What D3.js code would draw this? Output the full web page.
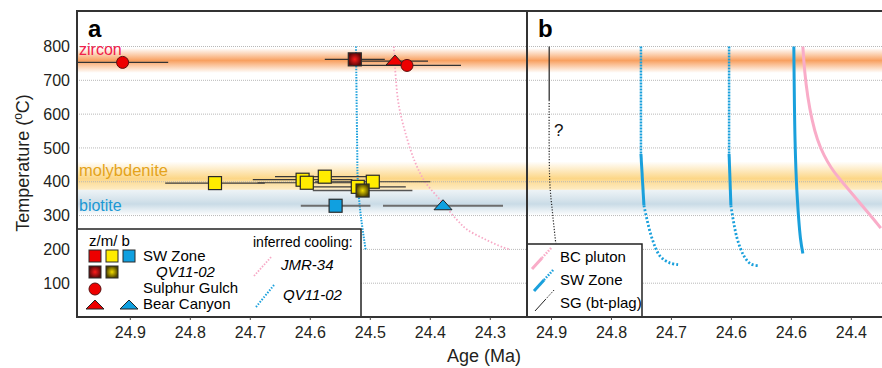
<!DOCTYPE html>
<html>
<head>
<meta charset="utf-8">
<script src="https://cdn.jsdelivr.net/npm/d3@7"></script>
<style>
  body { margin: 0; background: #fff; }
  svg { font-family: "Liberation Sans", Arial, Helvetica, sans-serif; }
</style>
</head>
<body>
<svg id="chart" width="882" height="368"></svg>
<script>
// ---- data (age Ma, temperature C, 2-sigma age error) ----
var sgZircon = [[24.912, 753, 0.076], [24.438, 744, 0.09]];     // Sulphur Gulch
var qvZircon = [[24.525, 762, 0.05]];                           // SW Zone QV11-02
var bcZircon = [[24.458, 757, 0.055]];                          // Bear Canyon
var swMolyb = [[24.758, 396, 0.083], [24.612, 406, 0.083], [24.605, 397, 0.082],
               [24.575, 415, 0.083], [24.52, 385, 0.08], [24.495, 400, 0.096]];
var qvMolyb = [[24.512, 374, 0.083]];
var swBiotite = [[24.557, 329, 0.058]];
var bcBiotite = [[24.378, 329, 0.10]];

// inferred cooling curves, panel a
var jmr34 = [[24.46, 800], [24.453, 641], [24.442, 553], [24.425, 460], [24.408, 400],
             [24.383, 347], [24.355, 288], [24.338, 259], [24.308, 230], [24.278, 206], [24.267, 200]];
var qv1102 = [[24.523, 800], [24.521, 500], [24.52, 400], [24.515, 300], [24.507, 200]];

// panel b curves
var bcPluton = [[24.48, 800], [24.477, 722], [24.472, 651], [24.465, 583], [24.456, 523],
                [24.445, 478], [24.433, 441], [24.42, 411], [24.406, 382], [24.385, 337],
                [24.365, 296], [24.35, 263]];
var sw1Top = [[24.75, 800], [24.75, 482]];
var sw1Mid = [[24.75, 482], [24.745, 330]];
var sw1Tail = [[24.745, 330], [24.732, 235], [24.718, 180], [24.702, 160], [24.688, 155]];
var sw2Top = [[24.603, 800], [24.603, 482]];
var sw2Mid = [[24.603, 482], [24.6, 330]];
var sw2Tail = [[24.6, 330], [24.59, 235], [24.578, 180], [24.567, 157], [24.555, 152]];
var sw3 = [[24.495, 800], [24.493, 523], [24.49, 375], [24.484, 233], [24.48, 188]];
var sgSolid = [[24.903, 800], [24.903, 641]];
var sgDotted = [[24.903, 641], [24.902, 400], [24.897, 300], [24.892, 218]];

var yTicks = [100, 200, 300, 400, 500, 600, 700, 800];
var xTicksA = [24.9, 24.8, 24.7, 24.6, 24.5, 24.4, 24.3];
var xTicksB = [24.9, 24.8, 24.7, 24.6, 24.5, 24.4];
var xLabelsB = ["24.9", "24.8", "24.7", "24.6", "24.6", "24.4"];

var svg = d3.select("#chart");
var plotL = 77, plotM = 527, plotR = 882, plotT = 11, plotB = 317;

var y = d3.scaleLinear().domain([0, 905]).range([plotB, plotT]);
var xa = d3.scaleLinear().domain([24.988, 24.238]).range([plotL, plotM]);
var xb = d3.scaleLinear().domain([24.94, 24.348]).range([plotM, plotR]);

var defs = svg.append("defs");
function vGrad(id, stops) {
    var g = defs.append("linearGradient").attr("id", id)
        .attr("x1", 0).attr("y1", 0).attr("x2", 0).attr("y2", 1);
    stops.forEach(function (s) {
        g.append("stop").attr("offset", s[0]).attr("stop-color", s[1]).attr("stop-opacity", s[2]);
    });
}
vGrad("zirconBand", [["0%", "#f8a464", 0], ["50%", "#f8a060", 1], ["100%", "#f8a464", 0]]);
vGrad("molyBand", [["0%", "#fcd27a", 0], ["60%", "#fcd27a", 0.9], ["100%", "#fde3a8", 0.7]]);
vGrad("bioBand", [["0%", "#e9f0f4", 0.8], ["55%", "#c9dbe6", 1], ["100%", "#c9dbe6", 0]]);

function rGrad(id, c0, c1) {
    var g = defs.append("radialGradient").attr("id", id);
    g.append("stop").attr("offset", "0%").attr("stop-color", c0);
    g.append("stop").attr("offset", "100%").attr("stop-color", c1);
}
rGrad("darkRed", "#ff1a1a", "#5e0808");
rGrad("darkYel", "#f2dc00", "#4f4400");

defs.append("clipPath").attr("id", "clipA").append("rect")
    .attr("x", plotL).attr("y", plotT).attr("width", plotM - plotL).attr("height", plotB - plotT);
defs.append("clipPath").attr("id", "clipB").append("rect")
    .attr("x", plotM).attr("y", plotT).attr("width", plotR - plotM).attr("height", plotB - plotT);

// background bands across both panels
var bands = svg.append("g");
function band(t1, t0, id) {
    bands.append("rect").attr("x", plotL).attr("width", plotR - plotL)
        .attr("y", y(t1)).attr("height", y(t0) - y(t1)).attr("fill", "url(#" + id + ")");
}
band(795, 722, "zirconBand");
band(460, 376, "molyBand");
band(376, 300, "bioBand");

// gridlines
svg.append("g").selectAll("line").data(yTicks).enter().append("line")
    .attr("x1", plotL).attr("x2", plotR)
    .attr("y1", function (d) { return y(d); }).attr("y2", function (d) { return y(d); })
    .attr("stroke", "#b8b8b8").attr("stroke-width", 1).attr("stroke-dasharray", "1,1");

// band labels
svg.append("text").attr("x", 79).attr("y", y(775)).attr("fill", "#f0204a")
    .attr("font-size", 16).text("zircon");
svg.append("text").attr("x", 79).attr("y", y(418)).attr("fill", "#e4a31a")
    .attr("font-size", 16.5).text("molybdenite");
svg.append("text").attr("x", 79).attr("y", y(314)).attr("fill", "#1c98d4")
    .attr("font-size", 16).text("biotite");

var line = function (xs, curve) {
    return d3.line().x(function (d) { return xs(d[0]); }).y(function (d) { return y(d[1]); })
        .curve(curve || d3.curveCatmullRom);
};

// ---- panel a ----
var ga = svg.append("g").attr("clip-path", "url(#clipA)");
ga.append("path").datum(jmr34).attr("d", line(xa)).attr("fill", "none")
    .attr("stroke", "#f7a9c6").attr("stroke-width", 1.8).attr("stroke-dasharray", "1.5,2");
ga.append("path").datum(qv1102).attr("d", line(xa)).attr("fill", "none")
    .attr("stroke", "#1aa0dc").attr("stroke-width", 2).attr("stroke-dasharray", "1.5,1.3");

function errBars(data, color, w) {
    ga.append("g").selectAll("line").data(data).enter().append("line")
        .attr("x1", function (d) { return xa(d[0] + d[2]); })
        .attr("x2", function (d) { return xa(d[0] - d[2]); })
        .attr("y1", function (d) { return y(d[1]); }).attr("y2", function (d) { return y(d[1]); })
        .attr("stroke", color).attr("stroke-width", w);
}
errBars(sgZircon, "#333", 1.2);
errBars(qvZircon, "#333", 1.2);
errBars(bcZircon, "#333", 1.2);
errBars(swMolyb, "#3a3a3a", 1.2);
errBars(qvMolyb, "#555", 1.5);
errBars(swBiotite, "#6d6d6d", 2);
errBars(bcBiotite, "#6d6d6d", 2);

function squares(data, fill) {
    ga.append("g").selectAll("rect").data(data).enter().append("rect")
        .attr("x", function (d) { return xa(d[0]) - 6.5; })
        .attr("y", function (d) { return y(d[1]) - 6.5; })
        .attr("width", 13).attr("height", 13)
        .attr("fill", fill).attr("stroke", "#2a2a2a").attr("stroke-width", 1.2);
}
function circles(data, fill) {
    ga.append("g").selectAll("circle").data(data).enter().append("circle")
        .attr("cx", function (d) { return xa(d[0]); }).attr("cy", function (d) { return y(d[1]); })
        .attr("r", 6).attr("fill", fill).attr("stroke", "#5a1010").attr("stroke-width", 1);
}
function triangles(data, fill) {
    ga.append("g").selectAll("path").data(data).enter().append("path")
        .attr("d", function (d) {
            var cx = xa(d[0]), cy = y(d[1]);
            return "M" + (cx - 9) + "," + (cy + 4) + "L" + cx + "," + (cy - 6) + "L" + (cx + 9) + "," + (cy + 4) + "Z";
        })
        .attr("fill", fill).attr("stroke", "#222").attr("stroke-width", 1);
}
squares(swMolyb.slice(0, 2), "#ffec00");
squares(swMolyb.slice(2), "#ffec00");
squares(qvMolyb, "url(#darkYel)");
squares(qvZircon, "url(#darkRed)");
triangles(bcZircon, "#ee0000");
circles(sgZircon, "#ee0000");
squares(swBiotite, "#10a0e0");
triangles(bcBiotite, "#10a0e0");

// ---- panel b ----
var gb = svg.append("g").attr("clip-path", "url(#clipB)");
gb.append("path").datum(bcPluton).attr("d", line(xb, d3.curveBasis)).attr("fill", "none")
    .attr("stroke", "#f9acc8").attr("stroke-width", 3);
[[sw1Top, sw1Mid, sw1Tail], [sw2Top, sw2Mid, sw2Tail]].forEach(function (c) {
    gb.append("path").datum(c[0]).attr("d", line(xb)).attr("fill", "none")
        .attr("stroke", "#1aa0dc").attr("stroke-width", 2.5).attr("stroke-dasharray", "2,1");
    gb.append("path").datum(c[1]).attr("d", line(xb)).attr("fill", "none")
        .attr("stroke", "#1aa0dc").attr("stroke-width", 3);
    gb.append("path").datum(c[2]).attr("d", line(xb)).attr("fill", "none")
        .attr("stroke", "#1aa0dc").attr("stroke-width", 2.8).attr("stroke-dasharray", "2,2");
});
gb.append("path").datum(sw3).attr("d", line(xb)).attr("fill", "none")
    .attr("stroke", "#1aa0dc").attr("stroke-width", 3);
gb.append("path").datum(sgSolid).attr("d", line(xb)).attr("fill", "none")
    .attr("stroke", "#222").attr("stroke-width", 1.2);
gb.append("path").datum(sgDotted).attr("d", line(xb)).attr("fill", "none")
    .attr("stroke", "#222").attr("stroke-width", 1.2).attr("stroke-dasharray", "1.2,1.6");
svg.append("text").attr("x", xb(24.9) + 3).attr("y", y(535)).attr("font-size", 17)
    .attr("fill", "#111").text("?");

// ---- legends ----
var la = svg.append("g");
la.append("rect").attr("x", plotL).attr("y", 229).attr("width", 284).attr("height", plotB - 229)
    .attr("fill", "#fff").attr("stroke", "#222").attr("stroke-width", 1.5);
la.append("text").attr("x", 89).attr("y", 246).attr("font-size", 15).text("z/m/ b");
function lsq(x, yy, fill) {
    la.append("rect").attr("x", x - 6).attr("y", yy - 6).attr("width", 12).attr("height", 12)
        .attr("fill", fill).attr("stroke", "#2a2a2a").attr("stroke-width", 1);
}
lsq(95, 256, "#ee0000"); lsq(112, 256, "#ffec00"); lsq(129, 256, "#10a0e0");
lsq(95, 272, "url(#darkRed)"); lsq(112, 272, "url(#darkYel)");
la.append("circle").attr("cx", 95).attr("cy", 289).attr("r", 6).attr("fill", "#ee0000")
    .attr("stroke", "#5a1010");
function ltri(x, yy, fill) {
    la.append("path").attr("d", "M" + (x - 9) + "," + (yy + 4) + "L" + x + "," + (yy - 5) + "L" + (x + 9) + "," + (yy + 4) + "Z")
        .attr("fill", fill).attr("stroke", "#222");
}
ltri(95, 305, "#ee0000"); ltri(129, 305, "#10a0e0");
la.append("text").attr("x", 143).attr("y", 261).attr("font-size", 15).text("SW Zone");
la.append("text").attr("x", 156).attr("y", 277).attr("font-size", 15).attr("font-style", "italic").text("QV11-02");
la.append("text").attr("x", 143).attr("y", 293).attr("font-size", 15).text("Sulphur Gulch");
la.append("text").attr("x", 143).attr("y", 309).attr("font-size", 15).text("Bear Canyon");
la.append("text").attr("x", 253).attr("y", 247).attr("font-size", 14).text("inferred cooling:");
la.append("line").attr("x1", 254).attr("y1", 276).attr("x2", 272).attr("y2", 256)
    .attr("stroke", "#f7a9c6").attr("stroke-width", 1.8).attr("stroke-dasharray", "1.5,1.5");
la.append("text").attr("x", 281).attr("y", 270).attr("font-size", 15).attr("font-style", "italic").text("JMR-34");
la.append("line").attr("x1", 256).attr("y1", 307).attr("x2", 274).attr("y2", 285)
    .attr("stroke", "#1aa0dc").attr("stroke-width", 2).attr("stroke-dasharray", "1.5,1.5");
la.append("text").attr("x", 283).attr("y", 300).attr("font-size", 15).attr("font-style", "italic").text("QV11-02");

var lb = svg.append("g");
lb.append("rect").attr("x", plotM).attr("y", 244).attr("width", 115).attr("height", plotB - 244)
    .attr("fill", "#fff").attr("stroke", "#222").attr("stroke-width", 1.5);
function lsample(x0, y0, color, w, wd) {
    lb.append("line").attr("x1", x0).attr("y1", y0).attr("x2", x0 + 10).attr("y2", y0 - 11)
        .attr("stroke", color).attr("stroke-width", w);
    lb.append("line").attr("x1", x0 + 10).attr("y1", y0 - 11).attr("x2", x0 + 20).attr("y2", y0 - 22)
        .attr("stroke", color).attr("stroke-width", wd).attr("stroke-dasharray", "1.5,1.5");
}
lsample(532, 269, "#f9acc8", 3, 2.5);
lsample(534, 291, "#1aa0dc", 3, 2.5);
lsample(535, 311, "#222", 1, 1);
lb.append("text").attr("x", 560).attr("y", 262).attr("font-size", 15).text("BC pluton");
lb.append("text").attr("x", 560).attr("y", 285).attr("font-size", 15).text("SW Zone");
lb.append("text").attr("x", 560).attr("y", 308).attr("font-size", 15).text("SG (bt-plag)");

// ---- frame ----
svg.append("rect").attr("x", plotL).attr("y", plotT).attr("width", plotR - plotL + 5).attr("height", plotB - plotT)
    .attr("fill", "none").attr("stroke", "#333").attr("stroke-width", 2);
svg.append("line").attr("x1", plotM).attr("x2", plotM).attr("y1", plotT).attr("y2", plotB)
    .attr("stroke", "#333").attr("stroke-width", 2);

svg.append("text").attr("x", 88).attr("y", 37).attr("font-size", 24).attr("font-weight", "bold").text("a");
svg.append("text").attr("x", 538).attr("y", 37).attr("font-size", 24).attr("font-weight", "bold").text("b");

// ---- axes ----
var axY = d3.axisLeft(y).tickValues(yTicks).tickSize(0).tickPadding(7);
svg.append("g").attr("transform", "translate(" + plotL + ",0)").call(axY)
    .call(function (g) { g.select(".domain").remove(); });

var axA = d3.axisBottom(xa).tickValues(xTicksA).tickFormat(d3.format(".1f")).tickSize(3).tickPadding(7);
svg.append("g").attr("transform", "translate(0," + plotB + ")").call(axA)
    .call(function (g) { g.select(".domain").remove(); });
var axB = d3.axisBottom(xb).tickValues(xTicksB)
    .tickFormat(function (d, i) { return xLabelsB[i]; }).tickSize(3).tickPadding(7);
svg.append("g").attr("transform", "translate(0," + plotB + ")").call(axB)
    .call(function (g) { g.select(".domain").remove(); });

svg.selectAll(".tick text").attr("font-size", 16).attr("fill", "#231f20")
    .attr("font-family", "'Liberation Sans', Arial, sans-serif");
svg.selectAll(".tick line").attr("stroke", "#444");

svg.append("text").attr("x", 484).attr("y", 362).attr("text-anchor", "middle")
    .attr("font-size", 18).attr("fill", "#231f20").text("Age (Ma)");
var yl = svg.append("text").attr("transform", "translate(29,163) rotate(-90)")
    .attr("text-anchor", "middle").attr("font-size", 18).attr("fill", "#231f20");
yl.append("tspan").text("Temperature (");
yl.append("tspan").attr("dy", -7).attr("font-size", 12).text("o");
yl.append("tspan").attr("dy", 7).text("C)");
</script>
</body>
</html>
